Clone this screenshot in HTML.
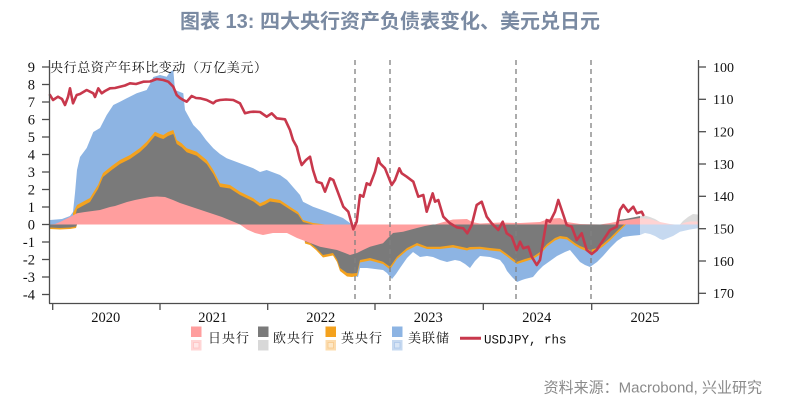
<!DOCTYPE html>
<html>
<head>
<meta charset="utf-8">
<style>
  html,body{margin:0;padding:0;background:#fff;}
  body{width:788px;height:404px;overflow:hidden;position:relative;}
  svg{position:absolute;left:0;top:0;}
  .ax{font-family:"Liberation Serif","Noto Serif CJK SC",serif;font-size:14.5px;fill:#111;}
  .axr{font-family:"Liberation Serif","Noto Serif CJK SC",serif;font-size:14px;fill:#111;}
  .cjk{font-family:"Liberation Mono","Noto Serif CJK SC","Noto Sans CJK SC",serif;font-size:13px;fill:#111;}
</style>
</head>
<body>
<svg width="788" height="404" viewBox="0 0 788 404" xmlns="http://www.w3.org/2000/svg">
  <!-- Title -->
  <text x="180" y="28" style="font-family:'Liberation Sans','Noto Sans CJK SC',sans-serif;font-size:20px;font-weight:bold;fill:#7a8aa2;">图表 13: 四大央行资产负债表变化、美元兑日元</text>

  <!-- ===== Positive stack ===== -->
  <path fill="#8db4e3" d="M50,224.5 L50,220 L62,219 L70,216 L73,212 L75,193 L77,170 L80,157 L86.7,148 L90,140 L93.3,132 L100,128 L106.7,115 L113.3,105 L120,101.7 L126.7,98.3 L136.7,93.3 L146.7,90 L150,84 L153.3,77 L160,75 L166.7,76.7 L170,72 L173.3,70 L175,90 L180,92 L183.3,93.3 L185,110 L193.3,125 L200,131.7 L206,140 L213.3,148.3 L220,154 L226.7,158.3 L240,163.3 L253.3,168.3 L260,172 L266.7,170 L272,172 L280,175 L287,180 L293,187 L300,195 L303,201.7 L313,206.7 L327,211.7 L343,218 L352,224.5 Z"/>
  <path fill="#f4a21e" d="M73,224.5 L73,213 L77,205 L83,201.7 L90,198 L93,193 L98,185 L103,173 L111.7,166 L120,160 L130,155 L140,148 L146.7,141.7 L155,131.7 L160,134 L163.3,135 L168,132 L173.3,130 L176.7,140 L181.7,143.3 L186.7,148.3 L196.7,151.7 L206.7,160 L213.3,170 L220,183.3 L230,185 L240,191.7 L253.3,198.3 L260,203.3 L265,201 L270,198.3 L280,200 L290,206.7 L298,212 L303,220 L313,223 L325,224.5 Z"/>
  <path fill="#7a7a7a" d="M75,224.5 L76,213 L77,209 L83,205.7 L90,202 L93,197 L98,189 L103,177 L111.7,170 L120,164 L130,159 L140,152 L146.7,145.7 L155,135.7 L160,138 L163.3,139 L168,136 L173.3,134 L176.7,144 L181.7,147.3 L186.7,152.3 L196.7,155.7 L206.7,164 L213.3,174 L220,187 L230,188.5 L240,195 L253.3,201.5 L260,206.5 L265,204.5 L270,201.5 L280,203 L290,209.5 L298,214.5 L303,222 L313,224.5 Z"/>
  <path fill="#7a7a7a" d="M615,224.5 L617,220 L625,219 L633,217.5 L640,216 L640,224.5 Z"/>
  <path fill="#ff9e9e" d="M50,224.5 L55,224 L60,222 L66,219 L70,217 L77,213.3 L85,212 L100,210 L110,207 L115,206 L127,202 L135,200 L140,199 L150,197 L157,196.5 L165,197 L173,200 L180,203 L195,208 L210,213 L222,217 L233,221.5 L240,224.5 Z"/>
  <path fill="#ff9e9e" d="M435,224.5 L440,223 L447,221 L453,219.5 L467,219 L472,222 L480,223.5 L500,222.5 L520,223 L540,222 L548,219 L553,218.5 L560,218 L567,222 L580,224 L600,224.5 L610,223 L620,221 L630,219.5 L640,218 L640,224.5 Z"/>
  <path fill="#dcdcdc" d="M640,224.5 L640,216 L645,215.5 L650,217 L655,219 L660,222 L665,224.5 Z"/>
  <path fill="#dcdcdc" d="M680,224.5 L683,221 L688,217 L693,214 L698,214.5 L698,224.5 Z"/>
  <path fill="#ffd3d3" d="M640,224.5 L640,218 L650,219 L660,222 L670,224 L675,224.5 Z"/>
  <path fill="#ffd3d3" d="M680,224.5 L685,222.5 L690,221.5 L698,221.5 L698,224.5 Z"/>

  <!-- ===== Negative stack ===== -->
  <path fill="#8db4e3" d="M355,224.5 L355,276 L358,277 L360,268 L367,268 L375,269 L383,270 L387,273 L392,279 L396,274 L400,268 L407,258 L413,252 L420,257 L427,256 L433,257 L440,260 L447,262 L455,260 L460,261 L465,264 L470,268 L475,261 L480,256 L490,257 L500,260 L504,265 L507,271 L512,277 L517,282 L522,280 L525,279 L533,277 L538,271 L543,266 L550,261 L557,256 L565,252 L570,250 L575,256 L580,262 L585,265 L590,267 L597,262 L603,256 L610,248 L617,241 L623,237 L630,236 L640,235 L640,224.5 Z"/>
  <path fill="#c6d9f0" d="M640,224.5 L640,235 L645,233 L650,234 L655,236 L660,239 L663,240 L668,238 L673,236 L680,231.7 L690,229.5 L698,228.3 L698,224.5 Z"/>
  <path fill="#f4a21e" d="M50,224.5 L50,229 L60,229.5 L70,229 L76,228 L77,224.5 Z"/>
  <path fill="#f4a21e" d="M303,224.5 L305,243.5 L310,245 L316,250 L323,257.5 L333,255.5 L337,262 L340,271 L347,276.5 L352,277 L357,276 L360,262.5 L370,260.5 L383,264 L390,269.5 L397,259 L407,250.5 L417,245.5 L427,249 L440,249 L453,247.5 L467,250.5 L470,249.5 L480,249 L490,250.5 L500,251.5 L507,256.5 L512,260.5 L517,264 L525,261.5 L533,259 L540,254.5 L547,246.5 L555,240.5 L560,238.5 L567,239.5 L575,245.5 L580,248.5 L585,250.5 L590,252.5 L597,250.5 L603,246.5 L610,240.5 L617,233.5 L623,227.5 L626,224.5 Z"/>
  <path fill="#7a7a7a" d="M50,224.5 L50,227.5 L60,228 L70,227.5 L76,226.5 L77,224.5 Z"/>
  <path fill="#7a7a7a" d="M303,224.5 L305,241.5 L310,243 L316,248 L323,255 L333,253 L337,259.5 L340,268 L347,273 L352,273.5 L357,273 L360,260 L370,258 L383,261.7 L390,266.7 L397,256.7 L407,248 L417,243 L427,246.7 L440,246.7 L453,245 L467,248 L470,247 L480,246.7 L490,248 L500,249 L507,254 L512,258 L517,261.7 L525,259 L533,256.7 L540,252 L547,244 L555,238 L560,236 L567,237 L575,243 L580,246 L585,248 L590,250 L597,248 L603,244 L610,238 L617,231 L623,225.5 L624,224.5 Z"/>
  <path fill="#ff9e9e" d="M240,224.5 L247,229.5 L255,233 L263,235 L273,233 L287,233 L297,238 L307,241.7 L320,246.7 L337,250 L345,253 L350,255 L357,253 L363,250 L370,246.7 L383,243.3 L388,238 L393,233 L403,231.7 L417,228 L425,226 L433,224.5 Z"/>

  <!-- Dashed vertical lines -->
  <g stroke="#808080" stroke-width="1.3" stroke-dasharray="5,4" fill="none">
    <line x1="355" y1="60" x2="355" y2="303"/>
    <line x1="390" y1="60" x2="390" y2="303"/>
    <line x1="516" y1="60" x2="516" y2="303"/>
    <line x1="591" y1="60" x2="591" y2="303"/>
  </g>

  <!-- USDJPY line -->
  <polyline fill="none" stroke="#c8384c" stroke-width="2.6" stroke-linejoin="round" stroke-linecap="round" points="50,95 53,100 58,96.7 62,99 65,105 68,97 70,88.3 73,103.3 76.7,95 80,94 86.7,90 93.3,93.3 95,97 98.3,88.3 101.7,93.3 105,91 110,88.3 115,88 120,86.7 125,85.5 130,83.3 136,84 143.3,81.7 150,81.5 156.7,79 163.3,80 168.3,81.7 173.3,86.7 176.7,95 180,98 183.3,100 186.7,101.7 191.7,96 196,98 200,98.3 206.7,100 213.3,103.3 216,101 220,100 226,99.5 233.3,100 240,103.3 245,113.3 250,112 253.3,111.7 260,112 266.7,116.7 271.7,113.3 276.7,118.3 285,119.3 290,130 293,140 296.7,146.7 300,160 301.7,165 306,160 310,156.7 313,170 316.7,181.7 321.7,183.3 325,191.7 330,178.3 333.3,180 338.3,193.3 343.3,206.7 348.3,211.7 353.3,229.3 356.7,221.7 360,195 363.3,196.7 366.7,183.3 370,185 375,171.7 378.3,158.3 380,163.3 385,168.3 391.7,185 395,180 399.3,168.3 401.7,173.3 406.7,176.7 413.3,181.7 418.3,196.7 423.3,195 426.7,211.7 432.7,193.3 435,201.7 438.3,200 443.3,216.7 450,223.3 456.7,227.3 463.3,228.3 467.3,233.3 471.7,225 476.7,205 481.7,201.7 486.7,216.7 491.7,223.3 498.3,230 502.7,221.7 506.7,233.3 511.7,236.7 516.7,250 520,241.7 523.3,248.3 528.3,246.7 531.7,256.7 536.7,265 540,260 546.7,220 550,221.7 555,211.7 558.3,200 561.7,210 566.7,225 571.7,226.7 576.7,240 581.7,233.3 586.7,250 591.7,254 596.7,250 603.3,240 610,230 616.7,226.7 620,210 623.3,205 628.3,211.7 633.3,206.7 636.7,213.3 641.7,211.7 643.3,215"/>

  <!-- Axes -->
  <g stroke="#4d4d4d" stroke-width="1.3" fill="none">
    <line x1="49.5" y1="60" x2="49.5" y2="303.5"/>
    <line x1="698.5" y1="60" x2="698.5" y2="303.5"/>
    <line x1="49" y1="303.5" x2="699" y2="303.5"/>
    <line x1="42" y1="67" x2="49.5" y2="67"/>
    <line x1="42" y1="84.5" x2="49.5" y2="84.5"/>
    <line x1="42" y1="102" x2="49.5" y2="102"/>
    <line x1="42" y1="119.5" x2="49.5" y2="119.5"/>
    <line x1="42" y1="137" x2="49.5" y2="137"/>
    <line x1="42" y1="154.5" x2="49.5" y2="154.5"/>
    <line x1="42" y1="172" x2="49.5" y2="172"/>
    <line x1="42" y1="189.5" x2="49.5" y2="189.5"/>
    <line x1="42" y1="207" x2="49.5" y2="207"/>
    <line x1="42" y1="224.5" x2="49.5" y2="224.5"/>
    <line x1="42" y1="242" x2="49.5" y2="242"/>
    <line x1="42" y1="259.5" x2="49.5" y2="259.5"/>
    <line x1="42" y1="277" x2="49.5" y2="277"/>
    <line x1="42" y1="294.5" x2="49.5" y2="294.5"/>
    <line x1="698.5" y1="67" x2="706" y2="67"/>
    <line x1="698.5" y1="99.3" x2="706" y2="99.3"/>
    <line x1="698.5" y1="131.7" x2="706" y2="131.7"/>
    <line x1="698.5" y1="164" x2="706" y2="164"/>
    <line x1="698.5" y1="196.3" x2="706" y2="196.3"/>
    <line x1="698.5" y1="228.7" x2="706" y2="228.7"/>
    <line x1="698.5" y1="261" x2="706" y2="261"/>
    <line x1="698.5" y1="293.3" x2="706" y2="293.3"/>
    <line x1="52.7" y1="303.5" x2="52.7" y2="310"/>
    <line x1="160" y1="303.5" x2="160" y2="310"/>
    <line x1="267.7" y1="303.5" x2="267.7" y2="310"/>
    <line x1="375" y1="303.5" x2="375" y2="310"/>
    <line x1="483.3" y1="303.5" x2="483.3" y2="310"/>
    <line x1="591.7" y1="303.5" x2="591.7" y2="310"/>
  </g>

  <g class="ax" text-anchor="end">
    <text x="35" y="72">9</text>
    <text x="35" y="89.5">8</text>
    <text x="35" y="107">7</text>
    <text x="35" y="124.5">6</text>
    <text x="35" y="142">5</text>
    <text x="35" y="159.5">4</text>
    <text x="35" y="177">3</text>
    <text x="35" y="194.5">2</text>
    <text x="35" y="212">1</text>
    <text x="35" y="229.5">0</text>
    <text x="35" y="247">-1</text>
    <text x="35" y="264.5">-2</text>
    <text x="35" y="282">-3</text>
    <text x="35" y="299.5">-4</text>
  </g>
  <g class="axr">
    <text x="713" y="71.8">100</text>
    <text x="713" y="104.1">110</text>
    <text x="713" y="136.5">120</text>
    <text x="713" y="168.8">130</text>
    <text x="713" y="201.1">140</text>
    <text x="713" y="233.5">150</text>
    <text x="713" y="265.8">160</text>
    <text x="713" y="298.1">170</text>
  </g>
  <g class="ax" text-anchor="middle">
    <text x="105.7" y="322">2020</text>
    <text x="212.7" y="322">2021</text>
    <text x="320.7" y="322">2022</text>
    <text x="428.3" y="322">2023</text>
    <text x="536.7" y="322">2024</text>
    <text x="645" y="322">2025</text>
  </g>

  <text class="cjk" x="50" y="72" style="letter-spacing:0.6px">央行总资产年环比变动（万亿美元）</text>

  <!-- Legend -->
  <rect x="191" y="326.5" width="10.5" height="10.5" fill="#ff9e9e"/>
  <rect x="191" y="340" width="10.5" height="10.5" fill="#ffd6d6"/>
  <rect x="193.5" y="342.5" width="5.5" height="5.5" fill="#ffe6e6" stroke="#ffc4c4" stroke-width="0.8"/>
  <text class="cjk" x="208" y="342.5" style="letter-spacing:1px">日央行</text>

  <rect x="258" y="326.5" width="10.5" height="10.5" fill="#7a7a7a"/>
  <rect x="258" y="340" width="10.5" height="10.5" fill="#d8d8d8"/>
  <text class="cjk" x="273" y="342.5" style="letter-spacing:1px">欧央行</text>

  <rect x="325.5" y="326.5" width="10.5" height="10.5" fill="#f4a21e"/>
  <rect x="325.5" y="340" width="10.5" height="10.5" fill="#fcdcae"/>
  <rect x="328" y="342.5" width="5.5" height="5.5" fill="#fde8c8" stroke="#f8c98a" stroke-width="0.8"/>
  <text class="cjk" x="341" y="342.5" style="letter-spacing:1px">英央行</text>

  <rect x="392" y="326.5" width="10.5" height="10.5" fill="#8db4e3"/>
  <rect x="392" y="340" width="10.5" height="10.5" fill="#c6d9f0"/>
  <rect x="394.5" y="342.5" width="5.5" height="5.5" fill="#d8e5f5" stroke="#adc7ea" stroke-width="0.8"/>
  <text class="cjk" x="408" y="342.5" style="letter-spacing:1px">美联储</text>

  <line x1="460" y1="338.3" x2="481" y2="338.3" stroke="#c8384c" stroke-width="3"/>
  <text x="484" y="343.5" style="font-family:'Liberation Mono',monospace;font-size:12.5px;fill:#111;">USDJPY, rhs</text>

  <text x="762" y="392.5" text-anchor="end" style="font-family:'Liberation Sans','Noto Sans CJK SC',sans-serif;font-size:15px;fill:#8a8a8a;">资料来源：Macrobond, 兴业研究</text>
</svg>
</body>
</html>
